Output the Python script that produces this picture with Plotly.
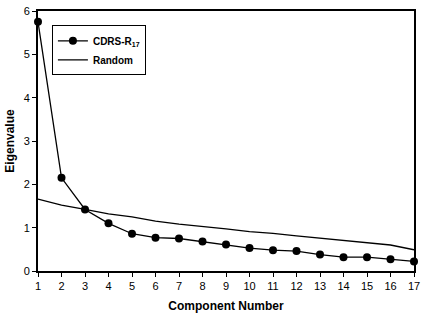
import plotly.graph_objects as go

components = list(range(1, 18))
cdrs = [5.75, 2.15, 1.42, 1.10, 0.86, 0.77, 0.75, 0.68, 0.61, 0.53, 0.48, 0.46, 0.38, 0.32, 0.32, 0.27, 0.22]
random_vals = [1.66, 1.52, 1.42, 1.32, 1.25, 1.15, 1.08, 1.03, 0.97, 0.91, 0.87, 0.81, 0.76, 0.71, 0.66, 0.60, 0.49]

fig = go.Figure()
fig.add_trace(go.Scatter(
    x=components, y=cdrs, mode="lines+markers",
    name="<b>CDRS-R<sub>17</sub></b>",
    line=dict(color="black", width=1.3),
    marker=dict(color="black", size=8),
    cliponaxis=False,
))
fig.add_trace(go.Scatter(
    x=components, y=random_vals, mode="lines",
    name="<b>Random</b>",
    line=dict(color="black", width=1.3),
    cliponaxis=False,
))

fig.update_layout(
    width=425, height=316,
    margin=dict(l=38, r=7, t=5, b=45),
    paper_bgcolor="white", plot_bgcolor="white",
    font=dict(family="Liberation Sans, Arial, sans-serif", color="black", size=11),
    showlegend=True,
    legend=dict(
        x=0.037, y=0.945, xanchor="left", yanchor="top",
        bordercolor="black", borderwidth=1, bgcolor="white",
        font=dict(size=10),
        tracegroupgap=0, itemwidth=30,
    ),
    xaxis=dict(
        range=[1, 17], tickvals=components, ticks="outside", ticklen=4,
        tickcolor="black", showline=True, linecolor="black", linewidth=2,
        mirror=True, showgrid=False, zeroline=False,
        title=dict(text="<b>Component Number</b>", font=dict(size=12), standoff=10),
    ),
    yaxis=dict(
        range=[0, 6], tickvals=[0, 1, 2, 3, 4, 5, 6], ticks="outside", ticklen=4,
        tickcolor="black", showline=True, linecolor="black", linewidth=2,
        mirror=True, showgrid=False, zeroline=False,
        title=dict(text="<b>Eigenvalue</b>", font=dict(size=12), standoff=6),
    ),
)

fig.write_html(
    "out.html",
    config={"displayModeBar": False},
    post_script="document.body.style.margin='0';document.body.style.overflow='hidden';",
)
